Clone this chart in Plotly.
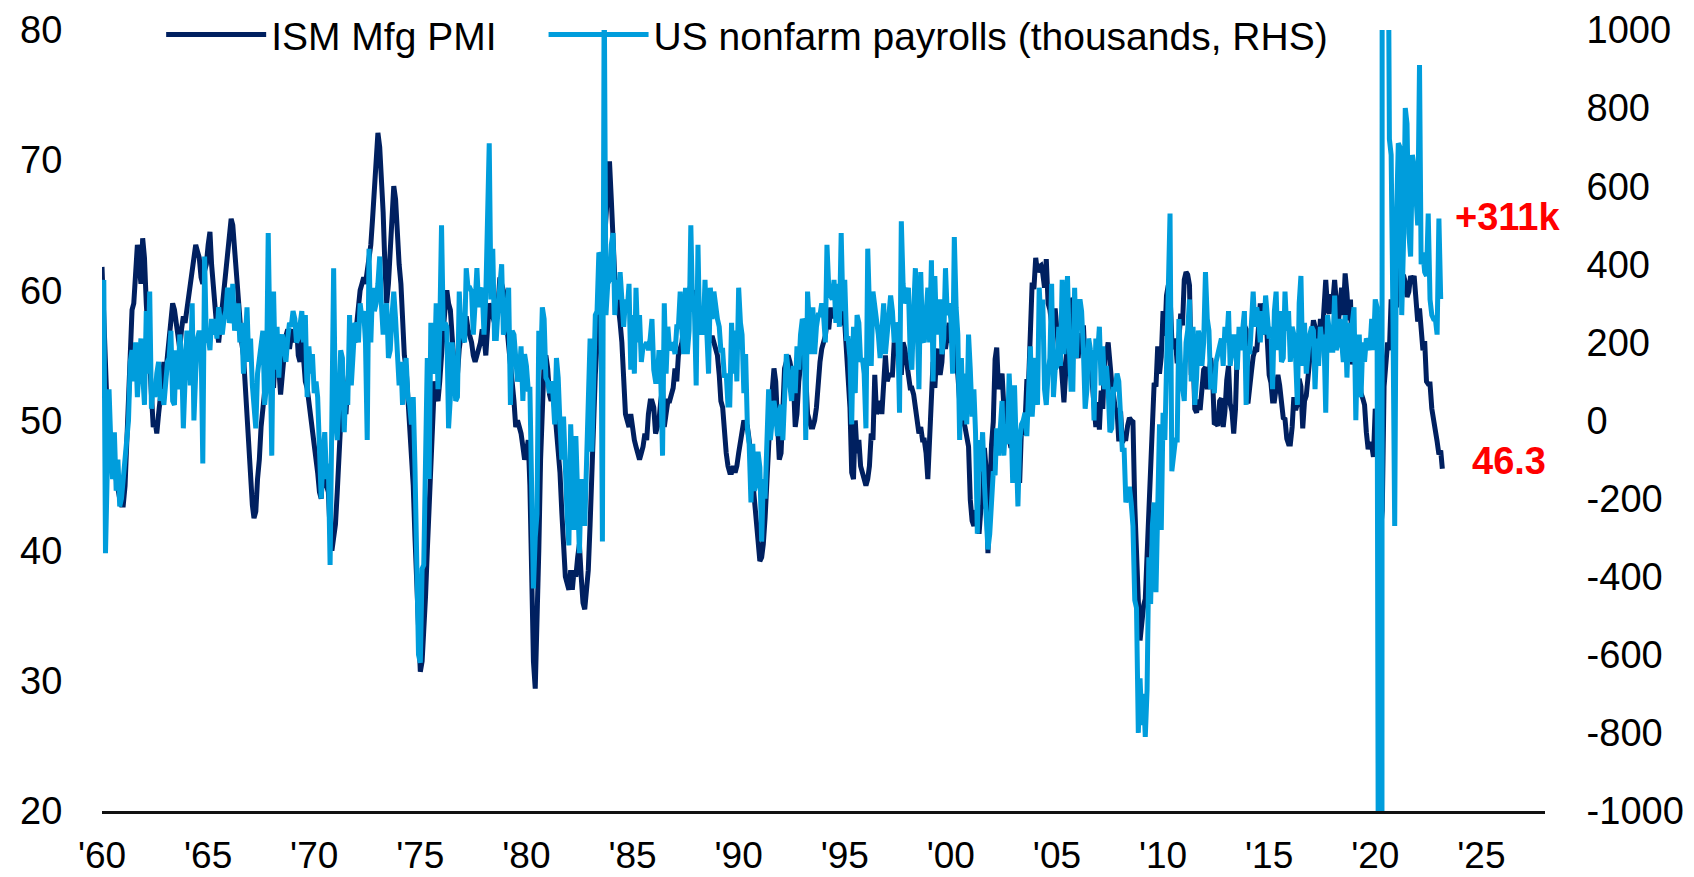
import pandas as pd
import plotly.graph_objects as go

# ISM Manufacturing PMI, monthly, Jan 1960 - Mar 2023
ism_pmi = [
    61.8, 57.0, 52.5, 50.5, 48.5, 47.8, 46.0, 46.5, 45.5, 44.5, 44.0, 43.5,  # 1960
    43.5, 45.0, 48.0, 52.5, 56.5, 58.5, 59.0, 62.0, 63.5, 62.0, 60.5, 64.0,  # 1961
    62.5, 59.0, 56.0, 54.5, 52.0, 49.5, 50.0, 49.0, 50.5, 51.5, 53.0, 54.5,  # 1962
    53.5, 55.0, 56.5, 58.0, 59.0, 58.5, 57.5, 56.0, 55.5, 57.0, 58.0, 57.5,  # 1963
    58.5, 59.5, 60.0, 61.0, 62.5, 63.5, 63.0, 62.5, 61.0, 60.5, 61.5, 62.0,  # 1964
    63.5, 64.5, 62.0, 60.0, 58.5, 57.0, 56.0, 57.5, 58.5, 60.0, 62.0, 63.5,  # 1965
    64.5, 65.5, 65.0, 63.0, 61.0, 59.5, 58.0, 56.0, 55.0, 52.5, 50.0, 47.5,  # 1966
    45.0, 43.5, 42.5, 43.0, 45.5, 47.0, 49.5, 51.0, 52.5, 53.5, 55.0, 54.0,  # 1967
    53.0, 52.5, 55.0, 56.0, 54.0, 52.0, 53.5, 55.5, 56.5, 57.0, 55.5, 56.5,  # 1968
    57.0, 56.0, 57.5, 55.0, 54.5, 56.5, 54.0, 53.0, 52.5, 51.5, 50.5, 49.0,  # 1969
    48.5, 47.0, 46.0, 44.5, 44.0, 46.5, 47.5, 45.0, 44.5, 41.5, 40.0, 41.0,  # 1970
    42.0, 44.5, 47.0, 50.0, 52.5, 51.0, 50.5, 53.0, 54.5, 55.0, 56.5, 56.0,  # 1971
    57.5, 59.0, 60.0, 60.5, 61.0, 60.5, 61.5, 62.5, 63.5, 65.5, 68.0, 70.5,  # 1972
    72.1, 71.0, 69.0, 66.0, 62.0, 59.0, 60.5, 63.5, 66.0, 68.0, 67.0, 64.0,  # 1973
    62.0, 60.5, 57.5, 55.0, 54.0, 52.0, 50.0, 48.0, 45.0, 41.0, 37.0, 33.5,  # 1974
    30.7, 31.5, 33.5, 36.5, 40.0, 43.5, 47.5, 50.5, 53.0, 52.0, 51.5, 53.0,  # 1975
    54.5, 57.0, 58.5, 60.0, 59.0, 58.5, 56.5, 54.5, 54.0, 53.5, 55.5, 56.5,  # 1976
    56.0, 57.5, 58.0, 57.0, 56.5, 56.0, 55.0, 54.5, 55.0, 55.5, 56.0, 57.0,  # 1977
    56.5, 55.0, 57.5, 59.0, 58.5, 58.0, 57.5, 58.5, 59.0, 61.0, 60.5, 60.0,  # 1978
    58.5, 57.0, 56.5, 54.0, 52.5, 51.5, 49.5, 50.0, 49.5, 49.0, 48.0, 47.0,  # 1979
    47.5, 48.5, 45.0, 38.0, 31.5, 29.4, 33.5, 40.0, 47.0, 52.0, 54.5, 55.0,  # 1980
    54.0, 52.0, 51.5, 52.5, 51.0, 49.5, 48.0, 46.0, 43.0, 40.5, 38.0, 37.5,  # 1981
    37.0, 38.5, 37.0, 38.5, 38.0, 39.5, 40.5, 38.0, 36.0, 35.5, 37.5, 38.5,  # 1982
    42.0, 46.0, 51.0, 53.5, 56.0, 57.5, 59.5, 61.5, 63.5, 66.0, 68.5, 69.9,  # 1983
    67.0, 63.5, 61.0, 60.0, 59.0, 57.5, 56.0, 53.0, 50.5, 50.0, 49.5, 50.5,  # 1984
    49.0, 48.5, 48.0, 47.5, 47.0, 47.5, 48.0, 49.0, 48.5, 50.5, 51.5, 51.5,  # 1985
    51.0, 49.0, 49.5, 50.0, 51.5, 52.5, 49.5, 51.0, 51.5, 51.5, 52.0, 52.5,  # 1986
    54.0, 53.0, 55.0, 55.5, 56.0, 57.5, 58.0, 59.0, 60.0, 60.5, 59.5, 60.0,  # 1987
    58.5, 57.5, 58.0, 57.5, 57.0, 58.5, 57.0, 56.5, 56.0, 56.5, 56.0, 55.5,  # 1988
    55.0, 53.5, 51.5, 51.0, 49.0, 47.5, 46.5, 46.0, 46.0, 46.5, 46.0, 46.5,  # 1989
    47.5, 48.5, 49.0, 50.0, 49.5, 49.5, 48.5, 47.0, 45.0, 43.0, 41.5, 40.5,  # 1990
    39.2, 39.5, 40.5, 42.5, 44.5, 48.0, 50.5, 52.5, 54.0, 53.0, 50.5, 47.0,  # 1991
    47.5, 52.5, 54.0, 54.5, 55.0, 54.5, 53.5, 53.0, 49.5, 50.5, 53.0, 54.5,  # 1992
    55.5, 55.0, 53.5, 50.5, 50.0, 49.5, 49.5, 50.0, 51.0, 53.0, 54.5, 55.5,  # 1993
    56.0, 56.5, 57.5, 57.0, 58.5, 58.5, 58.0, 58.0, 59.0, 59.5, 60.5, 57.5,  # 1994
    57.5, 55.0, 52.5, 51.0, 46.0, 45.5, 50.0, 47.5, 48.5, 46.5, 46.0, 45.5,  # 1995
    45.0, 45.5, 46.5, 49.0, 48.5, 53.5, 50.5, 51.0, 51.5, 50.5, 53.0, 55.0,  # 1996
    53.0, 53.5, 53.5, 53.5, 56.0, 55.0, 57.0, 56.0, 53.5, 56.0, 55.5, 54.0,  # 1997
    53.5, 52.5, 52.5, 52.0, 51.0, 49.5, 49.0, 49.5, 48.5, 48.5, 47.5, 45.5,  # 1998
    49.5, 51.5, 54.5, 52.5, 55.0, 55.5, 53.5, 54.5, 57.0, 55.5, 56.5, 57.5,  # 1999
    56.0, 56.5, 55.0, 54.5, 53.5, 51.5, 52.0, 50.0, 49.5, 48.5, 48.0, 43.9,  # 2000
    42.3, 41.9, 43.1, 42.7, 41.3, 43.2, 43.5, 47.9, 46.2, 39.8, 45.0, 48.1,  # 2001
    49.9, 54.7, 55.6, 52.4, 53.1, 53.6, 51.1, 48.9, 48.4, 48.6, 47.9, 51.6,  # 2002
    50.2, 48.8, 45.4, 45.4, 49.4, 48.9, 49.8, 53.0, 53.0, 56.2, 60.6, 60.1,  # 2003
    62.5, 61.4, 61.8, 61.9, 61.3, 60.2, 62.4, 59.0, 58.5, 57.5, 57.8, 58.6,  # 2004
    56.4, 55.3, 55.2, 53.3, 51.4, 53.8, 56.6, 53.6, 59.4, 59.1, 58.1, 55.6,  # 2005
    54.8, 56.7, 55.2, 57.3, 54.4, 53.8, 54.7, 54.5, 52.9, 51.2, 49.5, 51.4,  # 2006
    49.3, 52.3, 50.9, 54.7, 55.0, 56.0, 53.8, 52.9, 52.0, 50.9, 50.8, 48.4,  # 2007
    50.7, 48.3, 48.6, 48.6, 49.6, 50.2, 50.0, 49.9, 43.5, 38.9, 36.2, 33.1,  # 2008
    34.9, 35.8, 36.3, 40.1, 42.8, 45.8, 49.1, 52.9, 52.6, 55.7, 53.6, 54.9,  # 2009
    58.4, 56.5, 59.6, 60.4, 59.7, 56.2, 55.5, 56.3, 54.4, 56.9, 58.2, 57.3,  # 2010
    60.8, 61.4, 61.2, 60.4, 53.5, 55.3, 50.9, 50.6, 51.6, 50.8, 52.7, 53.9,  # 2011
    54.1, 52.4, 53.4, 54.8, 53.5, 49.7, 49.8, 49.6, 51.5, 51.7, 49.5, 50.7,  # 2012
    53.1, 54.2, 51.3, 50.7, 49.0, 50.9, 55.4, 55.7, 56.2, 56.4, 57.3, 57.0,  # 2013
    51.3, 53.2, 53.7, 54.9, 55.4, 55.3, 57.1, 59.0, 56.6, 59.0, 58.7, 55.5,  # 2014
    53.5, 52.9, 51.5, 51.5, 52.8, 53.5, 52.7, 51.1, 50.2, 50.1, 48.6, 48.2,  # 2015
    48.2, 49.5, 51.8, 50.8, 51.3, 53.2, 52.6, 49.4, 51.5, 51.9, 53.2, 54.7,  # 2016
    56.0, 57.7, 57.2, 54.8, 54.9, 57.8, 56.3, 58.8, 60.8, 58.7, 58.2, 59.7,  # 2017
    59.1, 60.8, 59.3, 57.3, 58.7, 60.2, 58.1, 61.3, 59.8, 57.7, 59.3, 54.3,  # 2018
    56.6, 54.2, 55.3, 52.8, 52.1, 51.7, 51.2, 49.1, 47.8, 48.3, 48.1, 47.2,  # 2019
    50.9, 50.1, 49.1, 41.5, 43.1, 52.6, 54.2, 56.0, 55.4, 59.3, 57.5, 60.7,  # 2020
    58.7, 60.8, 64.7, 60.7, 61.2, 60.6, 59.5, 59.9, 61.1, 60.8, 61.1, 58.8,  # 2021
    57.6, 58.6, 57.1, 55.4, 56.1, 53.0, 52.8, 52.8, 50.9, 50.2, 49.0, 48.4,  # 2022
    47.4, 47.7, 46.3,                                                        # 2023
]

# US nonfarm payrolls, monthly change (thousands), Jan 1960 - Feb 2023
nfp_change = [
    240, 360, -340, -100, 80, -60, -150, -30, -180, -100, -220, -200,  # 1960
    -150, -100, -50, 0, 150, 180, 100, 200, 60, 160, 210, 120,  # 1961
    40, 280, 120, 330, 30, 90, 60, 120, 150, 50, 80, 40,  # 1962
    100, 150, 160, 230, 50, 40, 180, 80, 220, 170, -20, 120,  # 1963
    230, 200, 90, 300, 0, 120, 210, 230, 200, -110, 420, 200,  # 1964
    220, 180, 260, 220, 260, 210, 290, 250, 220, 260, 280, 340,  # 1965
    250, 270, 350, 230, 280, 300, 200, 250, 120, 200, 290, 150,  # 1966
    210, 90, 40, -20, 120, 150, 180, 230, 40, 90, 480, 200,  # 1967
    -90, 330, 130, 240, 110, 200, 220, 180, 150, 210, 250, 240,  # 1968
    280, 260, 200, 210, 240, 280, 200, 270, 60, 190, 120, 170,  # 1969
    70, 100, 60, -40, -200, -90, -30, -150, -110, -370, -50, 390,  # 1970
    10, -50, 40, 180, 160, -30, 100, 40, 270, 90, 170, 250,  # 1971
    240, 200, 300, 260, 280, 200, -50, 440, 200, 340, 280, 300,  # 1972
    350, 420, 300, 220, 270, 300, 160, 180, 270, 330, 260, 140,  # 1973
    90, 150, 40, 120, 160, 60, 40, -10, 60, -120, -370, -600,  # 1974
    -620, -380, -370, -170, 160, -150, 250, 150, 120, 300, 80, 230,  # 1975
    500, 230, 250, 240, -20, 60, 200, 140, 50, 60, 330, 230,  # 1976
    220, 200, 390, 340, 340, 330, 220, 300, 390, 290, 330, 340,  # 1977
    220, 320, 490, 710, 310, 440, 210, 210, 290, 330, 400, 220,  # 1978
    240, 300, 340, 40, 230, 220, 160, 100, 120, 190, 50, 170,  # 1979
    140, 80, 80, -260, -430, -300, -240, 230, 130, 290, 260, 110,  # 1980
    100, 70, 100, 70, -10, 160, 110, -10, -100, 10, -180, -240,  # 1981
    -320, -10, -130, -280, -40, -240, -340, -150, -190, -270, -120, 10,  # 1982
    210, -80, 170, 270, 280, 430, 420, -310, 1115, 270, 350, 360,  # 1983
    450, 480, 270, 360, 310, 380, 310, 240, 310, 280, 350, 130,  # 1984
    270, 120, 340, 200, 270, 150, 190, 190, 200, 180, 210, 260,  # 1985
    130, 100, 100, 180, 110, -90, 300, 120, 240, 180, 190, 200,  # 1986
    170, 240, 240, 330, 230, 170, 340, 170, 230, 500, 280, 290,  # 1987
    90, 450, 220, 250, 220, 360, 230, 120, 340, 260, 330, 290,  # 1988
    260, 240, 180, 180, 110, 120, 40, 40, 250, 120, 230, 100,  # 1989
    340, 250, 220, 70, 170, -20, -60, -210, -60, -180, -160, -80,  # 1990
    -120, -310, -150, -200, -70, 80, -50, 20, 50, 20, -40, 20,  # 1991
    40, -50, 70, 170, 130, 70, 50, 140, 70, 190, 130, 220,  # 1992
    260, 250, -50, 330, 250, 170, 290, 170, 240, 270, 270, 300,  # 1993
    270, 200, 450, 340, 320, 310, 360, 250, 350, 240, 480, 280,  # 1994
    360, 210, 210, 160, -10, 240, 70, 270, 250, 150, 160, 120,  # 1995
    -20, 440, 290, 140, 330, 300, 250, 220, 160, 230, 300, 170,  # 1996
    230, 300, 320, 280, 200, 250, 240, 20, 510, 350, 300, 310,  # 1997
    340, 170, 130, 280, 390, 250, 80, 380, 210, 200, 280, 340,  # 1998
    200, 410, 100, 370, 220, 270, 310, 170, 210, 390, 270, 300,  # 1999
    260, 120, 470, 290, 220, -50, 160, 0, 120, -10, 220, 130,  # 2000
    10, 80, -30, -290, -50, -130, -30, -160, -250, -330, -290, -180,  # 2001
    -130, -140, -20, -90, -10, 50, -90, -10, -60, 120, 10, -160,  # 2002
    90, -160, -220, -50, -10, 0, 20, -40, 110, 190, 10, 120,  # 2003
    160, 40, 340, 250, 310, 80, 40, 120, 160, 350, 60, 130,  # 2004
    140, 240, 140, 360, 170, 240, 370, 190, 80, 80, 340, 160,  # 2005
    280, 310, 280, 180, 30, 80, 210, 180, 160, 0, 210, 170,  # 2006
    240, 90, 190, 80, 140, 80, -30, -20, 80, 80, 120, 100,  # 2007
    20, -80, -70, -210, -190, -170, -210, -270, -460, -480, -800, -660,  # 2008
    -780, -700, -810, -690, -350, -470, -270, -210, -440, -200, -10, -280,  # 2009
    20, -50, 160, 250, 530, -130, -80, -50, -50, 260, 120, 80,  # 2010
    50, 200, 230, 310, 100, 240, 40, 110, 230, 210, 140, 200,  # 2011
    380, 260, 230, 80, 110, 70, 150, 170, 190, 210, 140, 240,  # 2012
    200, 280, 140, 190, 220, 180, 130, 240, 180, 230, 280, 40,  # 2013
    190, 170, 270, 330, 240, 290, 260, 200, 280, 220, 320, 250,  # 2014
    210, 240, 80, 280, 330, 180, 280, 150, 160, 330, 230, 280,  # 2015
    150, 240, 220, 160, 40, 300, 370, 140, 250, 120, 180, 220,  # 2016
    240, 230, 80, 210, 140, 240, 190, 220, 20, 270, 230, 180,  # 2017
    180, 320, 180, 200, 260, 210, 150, 270, 110, 250, 150, 250,  # 2018
    290, 1, 190, 220, 60, 200, 150, 210, 200, 180, 260, 180,  # 2019
    310, 290, -1680, -20500, 2830, 4850, 1730, 1580, 720, 680, 260, -270,  # 2020
    520, 710, 700, 270, 450, 800, 760, 480, 420, 680, 650, 590,  # 2021
    500, 910, 400, 430, 380, 370, 530, 310, 270, 260, 260, 220,  # 2022
    517, 311,  # 2023
]

x_tick_dates = ["%d-01-01" % y for y in range(1960, 2030, 5)]
x_tick_labels = ["'60", "'65", "'70", "'75", "'80", "'85", "'90", "'95",
                 "'00", "'05", "'10", "'15", "'20", "'25"]
y_left_ticks = [20, 30, 40, 50, 60, 70, 80]
y_right_ticks = [-1000, -800, -600, -400, -200, 0, 200, 400, 600, 800, 1000]
y_right_labels = [str(v) for v in y_right_ticks]

ism_dates = pd.date_range("1960-01-01", periods=len(ism_pmi), freq="MS")
nfp_dates = pd.date_range("1960-01-01", periods=len(nfp_change), freq="MS")

DARK = "#002060"
LIGHT = "#009DDC"
FONT = "Liberation Sans"

fig = go.Figure()
fig.add_trace(go.Scatter(
    x=ism_dates, y=ism_pmi, name="ISM Mfg PMI", mode="lines",
    line=dict(color=DARK, width=5), yaxis="y", legend="legend",
))
fig.add_trace(go.Scatter(
    x=nfp_dates, y=nfp_change, name="US nonfarm payrolls (thousands, RHS)",
    mode="lines", line=dict(color=LIGHT, width=5), yaxis="y2",
    legend="legend2",
))

fig.update_layout(
    template="none",
    width=1686, height=869,
    margin=dict(l=94, r=149, t=22, b=66, pad=0, autoexpand=False),
    paper_bgcolor="white", plot_bgcolor="white",
    font=dict(family=FONT, size=38, color="#000000"),
    showlegend=True,
    legend=dict(
        orientation="h", x=0.041, y=0.994, xanchor="left", yanchor="middle",
        itemwidth=100,
        bgcolor="rgba(0,0,0,0)", font=dict(size=39, family=FONT),
    ),
    legend2=dict(
        orientation="h", x=0.306, y=0.994, xanchor="left", yanchor="middle",
        itemwidth=100,
        bgcolor="rgba(0,0,0,0)", font=dict(size=39, family=FONT),
    ),
    xaxis=dict(
        type="date", range=["1960-01-01", "2028-01-01"],
        tickmode="array", tickvals=x_tick_dates, ticktext=x_tick_labels,
        showgrid=False, zeroline=False,
        showline=True, linecolor="#111111", linewidth=3,
        ticks="outside", ticklen=10, tickcolor="rgba(0,0,0,0)",
        layer="below traces", automargin=False,
        tickfont=dict(size=37, family=FONT),
    ),
    yaxis=dict(
        range=[20, 80], tickmode="array", tickvals=y_left_ticks,
        showgrid=False, zeroline=False, showline=False,
        ticks="outside", ticklen=31, tickcolor="rgba(0,0,0,0)",
        automargin=False, tickfont=dict(size=38, family=FONT),
    ),
    yaxis2=dict(
        range=[-1000, 1000], overlaying="y", side="right",
        tickmode="array", tickvals=y_right_ticks, ticktext=y_right_labels,
        showgrid=False, zeroline=False, showline=False,
        ticks="outside", ticklen=33, tickcolor="rgba(0,0,0,0)",
        automargin=False, tickfont=dict(size=38, family=FONT),
    ),
    annotations=[
        dict(text="<b>+311k</b>", xref="paper", yref="paper", x=0.974, y=0.761,
             xanchor="center", yanchor="middle", showarrow=False,
             font=dict(size=38, color="#FF0000", family=FONT)),
        dict(text="<b>46.3</b>", xref="paper", yref="paper", x=0.975, y=0.448,
             xanchor="center", yanchor="middle", showarrow=False,
             font=dict(size=38, color="#FF0000", family=FONT)),
    ],
)

fig.write_html("out.html")
